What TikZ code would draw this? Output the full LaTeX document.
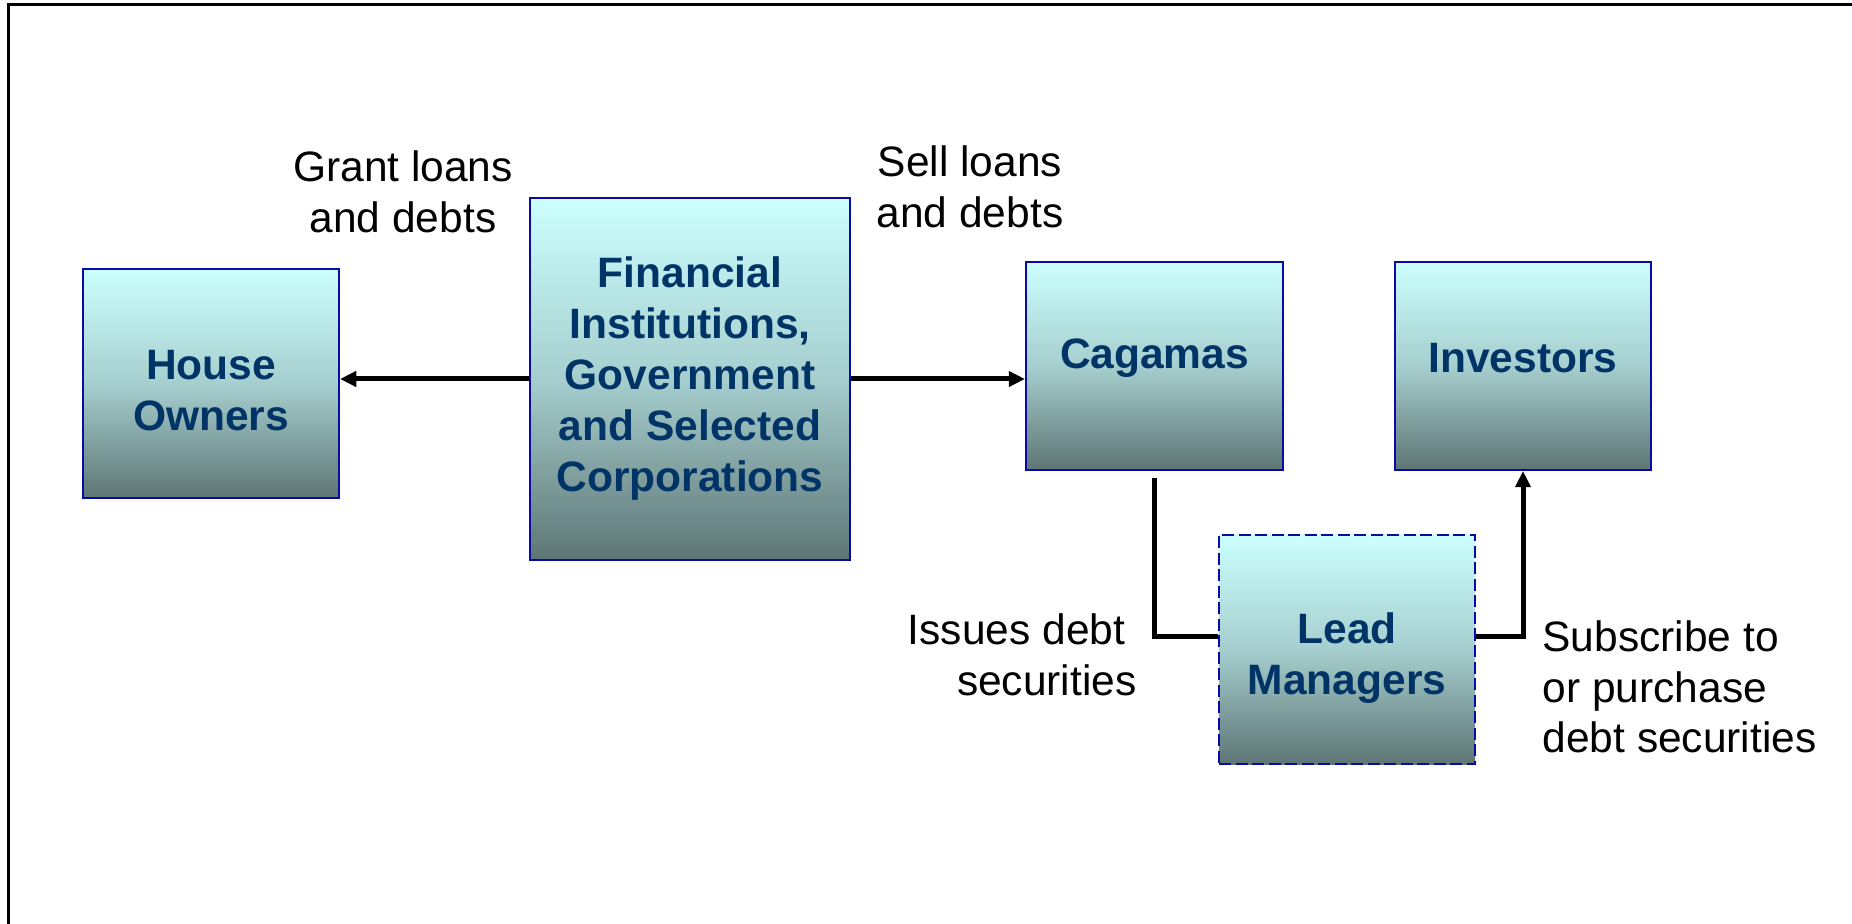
\documentclass[tikz,border=0pt]{standalone}
\usepackage{fontspec}
\setmainfont{Liberation Sans}
\usetikzlibrary{arrows.meta}
\definecolor{boxedge}{RGB}{10,10,165}
\definecolor{boxtext}{RGB}{0,51,102}
\definecolor{shadetop}{RGB}{204,255,255}
\definecolor{shademid}{RGB}{166,206,206}
\definecolor{shadebot}{RGB}{94,117,117}
\tikzset{
  entity/.style={draw=boxedge, line width=0.8pt, rectangle,
    top color=shadetop, bottom color=shadebot, middle color=shademid,
    text=boxtext, align=center, inner sep=0pt,
    font=\fontsize{17}{20.4}\selectfont\bfseries},
  dashedentity/.style={entity, dash pattern=on 4.8pt off 1.8pt},
  caption/.style={inner sep=0pt, font=\fontsize{17}{20.3}\selectfont},
  flow/.style={line width=2pt},
  flowarrow/.style={flow, -{Triangle[length=6.5pt,width=6pt]}},
}
% invisible struts that nudge a label up (depth) or down (height)
\newcommand{\padbelow}[1]{\rule[-#1]{0pt}{#1}}
\newcommand{\padabove}[1]{\rule{0pt}{#1}}
\begin{document}
\begin{tikzpicture}[x=0.4pt,y=-0.4pt]
\useasboundingbox (0,0) rectangle (1852,924);
% page frame (top and left edges)
\draw[line width=1.2pt] (8,924) -- (8,5) -- (1852,5);

% boxes
\node[entity, minimum width=102.4pt, minimum height=91.6pt] (house) at (211,384)
  {\padabove{17pt}House\\Owners};
\node[entity, minimum width=128pt, minimum height=144.8pt] (fin) at (690,379)
  {Financial\\Institutions,\\Government\\and Selected\\Corporations};
\node[entity, minimum width=102.8pt, minimum height=83.2pt] (cag) at (1154.5,366)
  {Cagamas\padbelow{10pt}};
\node[entity, minimum width=102.4pt, minimum height=83.2pt] (inv) at (1523,366)
  {Investors\padbelow{6.4pt}};
\node[dashedentity, minimum width=102.4pt, minimum height=91.6pt] (lead) at (1347,649.5)
  {\padabove{19pt}Lead\\Managers};

% captions
\node[caption, align=center] (grant) at (403,192) {Grant loans\\and debts};
\node[caption, align=center] (sell) at (970,187) {Sell loans\\and debts};
\node[caption, align=right, anchor=east] (issue) at (1137,655) {Issues debt\kern4.5pt\\securities};
\node[caption, align=left, anchor=west] (subs) at (1542,687) {Subscribe to\\or purchase\\debt securities};

% connectors
\draw[flowarrow] (fin.west) -- (house.east |- fin.west);
\draw[flowarrow] (fin.east) -- (cag.west |- fin.east);
\draw[flow] ([yshift=-2.8pt]cag.south) |- ([yshift=5pt]lead.west);
\draw[flowarrow] ([yshift=5pt]lead.east) -| (inv.south);
\end{tikzpicture}
\end{document}
